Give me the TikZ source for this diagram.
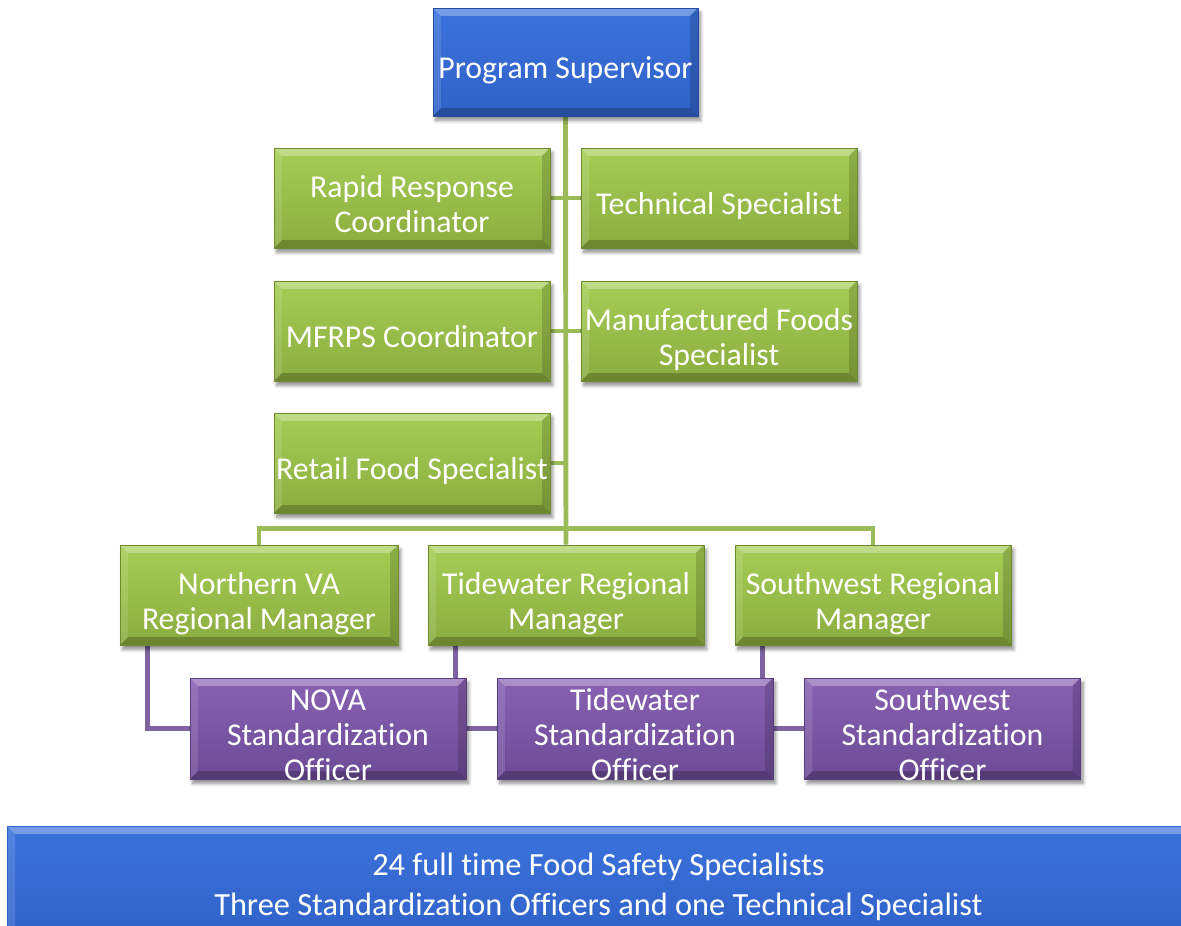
\documentclass[tikz,border=0pt]{standalone}
\usepackage{fontspec}
\setmainfont{Carlito}[Ligatures=NoCommon]
\usetikzlibrary{shadows.blur,backgrounds}
\definecolor{supblue}{HTML}{3B72DC}
\definecolor{supbluedk}{HTML}{3062C8}
\definecolor{leaf}{HTML}{A6CD55}
\definecolor{leafdk}{HTML}{8BAC3F}
\definecolor{leafrim}{HTML}{6E8C2E}
\definecolor{grape}{HTML}{8862B2}
\definecolor{grapedk}{HTML}{6C4B96}
\definecolor{graperim}{HTML}{593D7E}
\definecolor{greenlink}{HTML}{9BBB59}
\definecolor{purplelink}{HTML}{8064A2}

% box text sits a little below the middle and never grows the box
\newcommand\boxtext[1]{\raisebox{-10pt}[0pt][0pt]{\begin{tabular}{@{}c@{}}#1\end{tabular}}}

% light top and left, dark right and bottom
\newcommand\boxbevel{%
  \fill[white, opacity=.30] (path picture bounding box.north west)
    -- (path picture bounding box.north east)
    -- ([shift={(-4.5pt,-4.5pt)}]path picture bounding box.north east)
    -- ([shift={(4.5pt,-4.5pt)}]path picture bounding box.north west) -- cycle;
  \fill[white, opacity=.12] (path picture bounding box.north west)
    -- (path picture bounding box.south west)
    -- ([shift={(4.5pt,4.5pt)}]path picture bounding box.south west)
    -- ([shift={(4.5pt,-4.5pt)}]path picture bounding box.north west) -- cycle;
  \fill[black, opacity=.15] (path picture bounding box.north east)
    -- (path picture bounding box.south east)
    -- ([shift={(-4.5pt,4.5pt)}]path picture bounding box.south east)
    -- ([shift={(-4.5pt,-4.5pt)}]path picture bounding box.north east) -- cycle;
  \fill[black, opacity=.22] (path picture bounding box.south west)
    -- (path picture bounding box.south east)
    -- ([shift={(-4.5pt,4.5pt)}]path picture bounding box.south east)
    -- ([shift={(4.5pt,4.5pt)}]path picture bounding box.south west) -- cycle;
}

\begin{document}
\begin{tikzpicture}[
    x=0.02cm, y=-0.02cm,
    box/.style={rectangle, minimum width=5.52cm, minimum height=2cm,
                inner sep=1pt, text=white,
                font=\fontsize{18.1}{19.7}\selectfont,
                blur shadow={shadow xshift=1.5pt, shadow yshift=-2.5pt,
                             shadow blur steps=6, shadow opacity=45},
                path picture={\boxbevel}},
    chief/.style={box, minimum width=5.3cm, minimum height=2.16cm,
                  top color=supblue, bottom color=supbluedk, draw=supbluedk!80!black},
    staff/.style={box, top color=leaf, bottom color=leafdk, draw=leafrim},
    officer/.style={box, minimum height=2.02cm,
                    top color=grape, bottom color=grapedk, draw=graperim},
    banner/.style={box, minimum width=23.66cm, minimum height=2.32cm,
                   top color=supblue, bottom color=supbluedk, draw=supbluedk,
                   align=center, text depth=0pt,
                   font=\fontsize{18.4}{22.8}\selectfont},
    greenline/.style={greenlink, line width=2.8pt},
    purpleline/.style={purplelink, line width=2.8pt}
]
\useasboundingbox (0,0) rectangle (1181,926);

% ---------- head and staff ----------
\node[chief] (sup) at (565.5,62) {\boxtext{Program Supervisor}};

\node[staff] (rrc)    at (412,198) {\boxtext{Rapid Response\\Coordinator}};
\node[staff] (tech)   at (719,198) {\boxtext{Technical Specialist}};
\node[staff] (mfrps)  at (412,331) {\boxtext{MFRPS Coordinator}};
\node[staff] (mfs)    at (719,331) {\boxtext{Manufactured Foods\\Specialist}};
\node[staff] (retail) at (412,463) {\boxtext{Retail Food Specialist}};

% ---------- regions ----------
\node[staff, minimum width=5.56cm] (nvam) at (259,595)
  {\boxtext{Northern VA\\Regional Manager}};
\node[staff] (tidem) at (566,595) {\boxtext{Tidewater Regional\\Manager}};
\node[staff] (swm)   at (873,595) {\boxtext{Southwest Regional\\Manager}};

\node[officer] (novaso) at (328,728.5)   {\boxtext{NOVA\\Standardization\\Officer}};
\node[officer] (tideso) at (635,728.5)   {\boxtext{Tidewater\\Standardization\\Officer}};
\node[officer] (swso)   at (942.5,728.5) {\boxtext{Southwest\\Standardization\\Officer}};

\node[banner] (total) at (598.5,884)
  {24 full time Food Safety Specialists\\
   Three Standardization Officers and one Technical Specialist};

% ---------- links ----------
\begin{scope}[on background layer]
  \draw[greenline] (sup.south) -- (tidem.north);
  \draw[greenline] (rrc.east) -- (tech.west);
  \draw[greenline] (mfrps.east) -- (mfs.west);
  \draw[greenline] (retail.east) -- (retail.east -| sup.south);
  \draw[greenline] (nvam.north) -- ++(0,-16) -| (swm.north);

  \foreach \m/\o in {nvam/novaso, tidem/tideso, swm/swso}
    \draw[purpleline] ([xshift=0.55cm]\m.south west) |- (\o.west);
\end{scope}

\end{tikzpicture}
\end{document}
